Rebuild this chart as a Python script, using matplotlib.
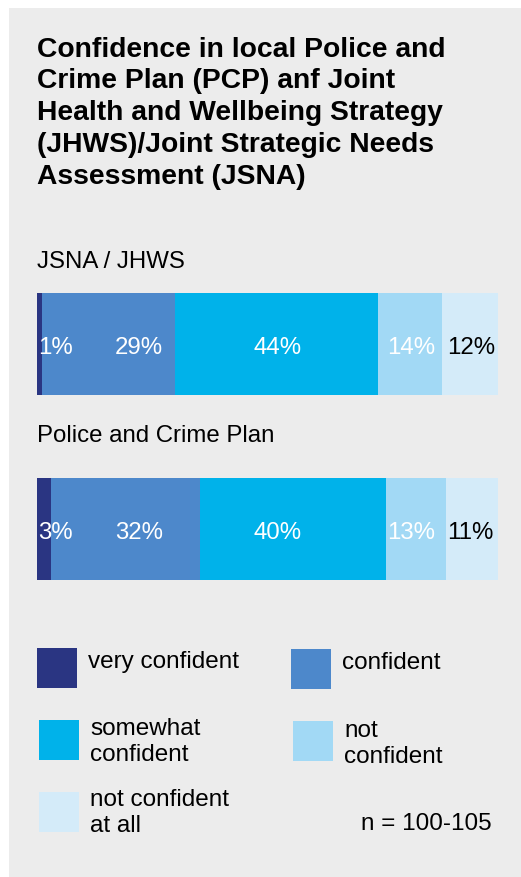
import matplotlib
matplotlib.use("Agg")
import matplotlib.pyplot as plt
from matplotlib.patches import Rectangle

# data
groups = ["JSNA / JHWS", "Police and Crime Plan"]
categories = ["very confident", "confident", "somewhat\nconfident",
              "not\nconfident", "not confident\nat all"]
values = [
    [1, 29, 44, 14, 12],   # JSNA / JHWS
    [3, 32, 40, 13, 11],   # Police and Crime Plan
]
colors = ["#2a3582", "#4d88cb", "#00b2ea", "#a2d9f5", "#d4ebf9"]
label_colors = ["white", "white", "white", "white", "black"]
title_lines = ["Confidence in local Police and",
               "Crime Plan (PCP) anf Joint",
               "Health and Wellbeing Strategy",
               "(JHWS)/Joint Strategic Needs",
               "Assessment (JSNA)"]
note = "n = 100-105"

W, H = 521, 878
FONT = "Liberation Sans"


def fx(x):
    return x / W


def fy(y):
    return 1 - y / H


fig = plt.figure(figsize=(W / 100, H / 100), dpi=100)
fig.patch.set_facecolor("white")
fig.patches.append(Rectangle((fx(9), 0), 1 - fx(9), fy(9), transform=fig.transFigure,
                             facecolor="#ececec", edgecolor="none", zorder=-5))

# title
for i, line in enumerate(title_lines):
    fig.text(fx(37), fy(56.7 + i * 31.7), line, fontsize=20.3, fontweight="bold",
             family=FONT, va="baseline", ha="left")

# group labels
for name, base in zip(groups, [268, 441.7]):
    fig.text(fx(37), fy(base), name, fontsize=17.3, family=FONT,
             va="baseline", ha="left")

# stacked bars
bar_top, bar_bot = 294, 581
ax = fig.add_axes([fx(37), fy(bar_bot), fx(460.5), (bar_bot - bar_top) / H])
ax.set_zorder(2)
ax.patch.set_visible(False)
h = 102 / 185
label_x = [4.0, 22.2, 52.3, 81.3, 94.2]
for row, vals in enumerate(values):
    total = sum(vals)
    left = 0
    for j, v in enumerate(vals):
        share = v / total * 100
        ax.barh(row, share, left=left, height=h, color=colors[j], linewidth=0)
        ax.text(label_x[j], row + 9 / 185, f"{v}%", color=label_colors[j],
                fontsize=17.3, family=FONT, ha="center", va="baseline")
        left += share
ax.set_xlim(0, 100)
ax.set_ylim(1 + h / 2, -h / 2)
ax.axis("off")

# legend
sq_pos = [(37, 649), (291, 650), (39, 721), (293, 722), (39, 793)]
txt_pos = [(88, 662), (342, 663), (90, 729), (344, 731), (90, 800)]
for (sx, sy), (tx, ty), col, lab in zip(sq_pos, txt_pos, colors, categories):
    fig.patches.append(Rectangle((fx(sx), fy(sy + 40)), 40 / W, 40 / H,
                                 transform=fig.transFigure, facecolor=col,
                                 edgecolor="none", zorder=1))
    for k, part in enumerate(lab.split("\n")):
        fig.text(fx(tx), fy(ty + k * 26), part, fontsize=17.5, family=FONT,
                 ha="left", va="center")

fig.text(fx(491.7), fy(824), note, fontsize=17.5, family=FONT,
         ha="right", va="center")

fig.savefig("out.png", dpi=100)
